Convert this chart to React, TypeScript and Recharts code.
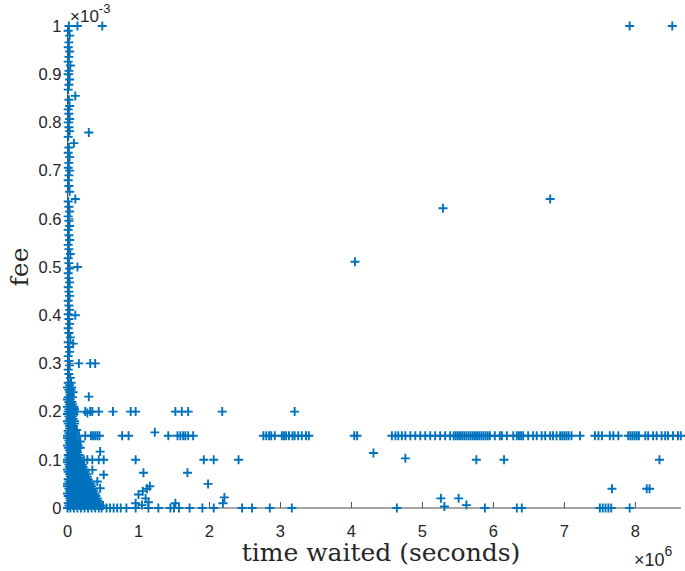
import { ScatterChart, Scatter, XAxis, YAxis } from 'recharts';

// x in units of 1e6 seconds, y in units of 1e-3 fee
const xTicks = [0, 1, 2, 3, 4, 5, 6, 7, 8];
const yTicks = [0, 0.1, 0.2, 0.3, 0.4, 0.5, 0.6, 0.7, 0.8, 0.9, 1];
const X_MAX = 8.643;

// narrow column of small waits, all fee levels
const columnPoints: [number, number][] = [
  [0.02, 1.0], [0.14, 1.0], [0.49, 1.0], [0.01, 0.99], [0.03, 0.98], [0.02, 0.966],
  [0.01, 0.956], [0.03, 0.947], [0.02, 0.936], [0.01, 0.926], [0.04, 0.918], [0.02, 0.907],
  [0.01, 0.9], [0.03, 0.889], [0.02, 0.878], [0.01, 0.868], [0.11, 0.855], [0.02, 0.847],
  [0.03, 0.834], [0.01, 0.827], [0.02, 0.818], [0.03, 0.807], [0.01, 0.8], [0.02, 0.79],
  [0.3, 0.779], [0.03, 0.782], [0.01, 0.77], [0.09, 0.757], [0.02, 0.748], [0.01, 0.737],
  [0.03, 0.728], [0.02, 0.716], [0.01, 0.706], [0.03, 0.7], [0.02, 0.69], [0.01, 0.68],
  [0.02, 0.668], [0.03, 0.656], [0.11, 0.641], [0.01, 0.636], [0.02, 0.625], [0.03, 0.615],
  [0.01, 0.605], [0.02, 0.596], [0.03, 0.585], [0.01, 0.577], [0.02, 0.566], [0.03, 0.556],
  [0.01, 0.546], [0.02, 0.537], [0.04, 0.527], [0.01, 0.518], [0.02, 0.508], [0.14, 0.5],
  [0.03, 0.497], [0.01, 0.487], [0.02, 0.477], [0.03, 0.468], [0.01, 0.458], [0.02, 0.449],
  [0.03, 0.44], [0.01, 0.43], [0.02, 0.42], [0.11, 0.4], [0.03, 0.411], [0.01, 0.402],
  [0.02, 0.392], [0.03, 0.382], [0.01, 0.373], [0.02, 0.363], [0.04, 0.354], [0.08, 0.341],
  [0.01, 0.344], [0.02, 0.334], [0.03, 0.324], [0.01, 0.315], [0.02, 0.305], [0.16, 0.3],
  [0.03, 0.296], [0.01, 0.287], [0.02, 0.278], [0.04, 0.27],
];

// dense triangle near the origin
const clusterPoints: [number, number][] = [
  [0.01, 0.26], [0.05, 0.26], [0.0, 0.25], [0.06, 0.25], [0.03, 0.24], [0.08, 0.24],
  [0.01, 0.23], [0.07, 0.23], [0.02, 0.22], [0.06, 0.22], [0.0, 0.21], [0.05, 0.21],
  [0.09, 0.21], [0.01, 0.2], [0.04, 0.2], [0.08, 0.2], [0.02, 0.19], [0.07, 0.19],
  [0.0, 0.18], [0.05, 0.18], [0.1, 0.18], [0.03, 0.17], [0.08, 0.17], [0.01, 0.16],
  [0.06, 0.16], [0.11, 0.16], [0.0, 0.15], [0.04, 0.15], [0.09, 0.15], [0.02, 0.14],
  [0.07, 0.14], [0.12, 0.14], [0.0, 0.13], [0.05, 0.13], [0.1, 0.13], [0.15, 0.13],
  [0.03, 0.12], [0.08, 0.12], [0.13, 0.12], [0.01, 0.11], [0.06, 0.11], [0.11, 0.11],
  [0.16, 0.11], [0.0, 0.1], [0.04, 0.1], [0.09, 0.1], [0.14, 0.1], [0.18, 0.1],
  [0.02, 0.09], [0.07, 0.09], [0.12, 0.09], [0.17, 0.09], [0.21, 0.09], [0.0, 0.08],
  [0.05, 0.08], [0.1, 0.08], [0.15, 0.08], [0.2, 0.08], [0.24, 0.08], [0.03, 0.07],
  [0.08, 0.07], [0.13, 0.07], [0.18, 0.07], [0.23, 0.07], [0.27, 0.07], [0.01, 0.06],
  [0.06, 0.06], [0.11, 0.06], [0.16, 0.06], [0.21, 0.06], [0.26, 0.06], [0.29, 0.06],
  [0.0, 0.05], [0.04, 0.05], [0.09, 0.05], [0.14, 0.05], [0.19, 0.05], [0.24, 0.05],
  [0.28, 0.05], [0.33, 0.05], [0.02, 0.04], [0.07, 0.04], [0.12, 0.04], [0.17, 0.04],
  [0.22, 0.04], [0.27, 0.04], [0.31, 0.04], [0.36, 0.04], [0.0, 0.03], [0.05, 0.03],
  [0.1, 0.03], [0.15, 0.03], [0.2, 0.03], [0.25, 0.03], [0.3, 0.03], [0.34, 0.03],
  [0.39, 0.03], [0.03, 0.02], [0.08, 0.02], [0.13, 0.02], [0.18, 0.02], [0.23, 0.02],
  [0.28, 0.02], [0.33, 0.02], [0.37, 0.02], [0.42, 0.02], [0.01, 0.01], [0.06, 0.01],
  [0.11, 0.01], [0.16, 0.01], [0.21, 0.01], [0.26, 0.01], [0.31, 0.01], [0.36, 0.01],
  [0.41, 0.01], [0.45, 0.01], [0.0, 0.0], [0.04, 0.0], [0.09, 0.0], [0.14, 0.0],
  [0.19, 0.0], [0.24, 0.0], [0.29, 0.0], [0.34, 0.0], [0.39, 0.0], [0.44, 0.0], [0.48, 0.0],
];

// in-between rows of the same triangle
const clusterFill: [number, number][] = [
  [0.03, 0.255], [0.02, 0.245], [0.05, 0.245], [0.04, 0.235], [0.0, 0.225], [0.04, 0.225],
  [0.03, 0.215], [0.07, 0.215], [0.02, 0.205], [0.06, 0.205], [0.1, 0.205], [0.0, 0.195],
  [0.04, 0.195], [0.09, 0.195], [0.03, 0.185], [0.08, 0.185], [0.01, 0.175], [0.06, 0.175],
  [0.1, 0.175], [0.03, 0.165], [0.08, 0.165], [0.02, 0.155], [0.07, 0.155], [0.11, 0.155],
  [0.0, 0.145], [0.05, 0.145], [0.1, 0.145], [0.03, 0.135], [0.08, 0.135], [0.13, 0.135],
  [0.01, 0.125], [0.06, 0.125], [0.11, 0.125], [0.15, 0.125], [0.04, 0.115], [0.09, 0.115],
  [0.14, 0.115], [0.02, 0.105], [0.07, 0.105], [0.12, 0.105], [0.16, 0.105], [0.0, 0.095],
  [0.05, 0.095], [0.1, 0.095], [0.15, 0.095], [0.19, 0.095], [0.03, 0.085], [0.08, 0.085],
  [0.13, 0.085], [0.18, 0.085], [0.22, 0.085], [0.01, 0.075], [0.06, 0.075], [0.11, 0.075],
  [0.16, 0.075], [0.21, 0.075], [0.25, 0.075], [0.04, 0.065], [0.09, 0.065], [0.14, 0.065],
  [0.19, 0.065], [0.24, 0.065], [0.28, 0.065], [0.02, 0.055], [0.07, 0.055], [0.12, 0.055],
  [0.17, 0.055], [0.22, 0.055], [0.27, 0.055], [0.31, 0.055], [0.0, 0.045], [0.05, 0.045],
  [0.1, 0.045], [0.15, 0.045], [0.2, 0.045], [0.25, 0.045], [0.3, 0.045], [0.34, 0.045],
  [0.03, 0.035], [0.08, 0.035], [0.13, 0.035], [0.18, 0.035], [0.23, 0.035], [0.28, 0.035],
  [0.33, 0.035], [0.37, 0.035], [0.01, 0.025], [0.06, 0.025], [0.11, 0.025], [0.16, 0.025],
  [0.21, 0.025], [0.26, 0.025], [0.31, 0.025], [0.35, 0.025], [0.4, 0.025], [0.04, 0.015],
  [0.09, 0.015], [0.14, 0.015], [0.19, 0.015], [0.24, 0.015], [0.29, 0.015], [0.34, 0.015],
  [0.38, 0.015], [0.43, 0.015], [0.02, 0.005], [0.07, 0.005], [0.12, 0.005], [0.17, 0.005],
  [0.22, 0.005], [0.27, 0.005], [0.32, 0.005], [0.37, 0.005], [0.42, 0.005], [0.46, 0.005],
  [0.5, 0.005],
];

// fee levels that repeat across long waits
const band015X = [
  0.16, 0.25, 0.33, 0.36, 0.39, 0.42, 0.45, 0.77, 0.86, 1.42, 1.55, 1.59, 1.63, 1.66, 1.7, 1.77,
  2.76, 2.8, 2.84, 2.87, 2.92, 3.02, 3.05, 3.08, 3.12, 3.17, 3.2, 3.25, 3.3, 3.36, 3.4,
  4.04, 4.08, 4.57, 4.62, 4.66, 4.71, 4.76, 4.83, 4.9, 4.97, 5.04, 5.11, 5.18, 5.25, 5.32,
  5.39, 5.44, 5.47, 5.5, 5.53, 5.56, 5.59, 5.62, 5.65, 5.68, 5.71, 5.74, 5.77, 5.8, 5.83,
  5.86, 5.89, 5.92, 5.95, 6.02, 6.09, 6.12, 6.19, 6.28, 6.33, 6.36, 6.39, 6.42, 6.49, 6.56,
  6.61, 6.68, 6.73, 6.8, 6.84, 6.89, 6.94, 6.97, 7.0, 7.03, 7.06, 7.1, 7.22, 7.43, 7.48,
  7.53, 7.64, 7.69, 7.76, 7.9, 7.93, 7.96, 7.99, 8.02, 8.05, 8.14, 8.18, 8.25, 8.3, 8.37,
  8.42, 8.46, 8.53, 8.6, 8.64,
];
const band02X = [0.13, 0.25, 0.32, 0.35, 0.44, 0.64, 0.89, 0.96, 1.52, 1.61, 1.7, 2.18, 3.2];
const band01X = [0.23, 0.28, 0.35, 0.44, 0.51, 0.96, 1.92, 2.06, 2.41, 5.76, 6.15, 8.34];
const zeroFeeX = [
  0.55, 0.6, 0.65, 0.7, 0.75, 0.83, 0.96, 1.14, 1.28, 1.45, 1.5, 1.57, 1.72, 1.9, 2.06,
  2.46, 2.6, 2.85, 3.16, 4.64, 5.88, 6.33, 6.4, 7.5, 7.54, 7.58, 7.62, 7.66, 7.92,
];

// scattered single transactions
const otherPoints: [number, number][] = [
  [0.32, 0.3], [0.39, 0.3], [0.3, 0.231], [0.28, 0.197], [0.13, 0.162], [0.18, 0.138],
  [0.18, 0.125], [0.46, 0.117], [0.35, 0.079], [0.51, 0.069], [0.42, 0.055], [0.46, 0.041],
  [1.23, 0.157], [1.07, 0.073], [1.69, 0.073], [1.98, 0.05], [0.96, 0.01], [1.0, 0.028],
  [1.05, 0.006], [1.06, 0.035], [1.1, 0.02], [1.12, 0.04], [1.14, 0.012], [1.16, 0.045],
  [1.52, 0.01], [2.19, 0.01], [2.21, 0.022], [4.31, 0.114], [4.76, 0.103], [5.26, 0.02],
  [5.31, 0.003], [5.51, 0.02], [5.62, 0.006], [7.67, 0.04], [8.16, 0.04], [8.2, 0.04],
  [4.05, 0.511], [5.29, 0.622], [6.8, 0.641], [7.92, 1.0], [8.52, 1.0],
];

const data = [
  ...columnPoints.map(([x, y]) => ({ x, y })),
  ...clusterPoints.map(([x, y]) => ({ x, y })),
  ...clusterFill.map(([x, y]) => ({ x, y })),
  ...band015X.map((x) => ({ x, y: 0.15 })),
  ...band02X.map((x) => ({ x, y: 0.2 })),
  ...band01X.map((x) => ({ x, y: 0.1 })),
  ...zeroFeeX.map((x) => ({ x, y: 0 })),
  ...otherPoints.map(([x, y]) => ({ x, y })),
];

const AXIS = '#4d4d4d';
const TEXT = '#262626';
const BLUE = '#0072BD';

const Plus = (props: any) => {
  const { cx, cy } = props;
  if (cx == null || cy == null) return <g />;
  return (
    <path
      d={`M${cx - 4.5},${cy}h9M${cx},${cy - 4.5}v9`}
      stroke={BLUE}
      strokeWidth={1.9}
      fill="none"
    />
  );
};

const tickStyle = { fill: TEXT, fontSize: 16.5, fontFamily: 'Liberation Sans, Arial, sans-serif' };

export default function App() {
  return (
    <div style={{ position: 'absolute', left: 0, top: 0, width: 685, height: 571, background: '#fff' }}>
      <ScatterChart
        width={685}
        height={571}
        margin={{ top: 26, right: 4, bottom: 33, left: 7.5 }}
      >
        <XAxis
          dataKey="x"
          type="number"
          domain={[0, X_MAX]}
          ticks={xTicks}
          interval={0}
          stroke={AXIS}
          tickSize={-6}
          tickMargin={23}
          height={30}
          tick={tickStyle}
        />
        <XAxis
          xAxisId="top"
          orientation="top"
          type="number"
          domain={[0, X_MAX]}
          ticks={xTicks}
          interval={0}
          stroke={AXIS}
          tickSize={-6}
          height={0}
          tick={false}
        />
        <YAxis
          dataKey="y"
          type="number"
          domain={[0, 1]}
          ticks={yTicks}
          interval={0}
          stroke={AXIS}
          tickSize={-6}
          tickMargin={12}
          width={60}
          tick={tickStyle}
        />
        <YAxis
          yAxisId="right"
          orientation="right"
          type="number"
          domain={[0, 1]}
          ticks={yTicks}
          interval={0}
          stroke={AXIS}
          tickSize={-6}
          width={0}
          tick={false}
        />
        <Scatter data={data} shape={Plus} isAnimationActive={false} />
      </ScatterChart>
      <svg
        width={685}
        height={571}
        style={{ position: 'absolute', left: 0, top: 0, pointerEvents: 'none' }}
      >
        <text
          transform="translate(28,267) rotate(-90)"
          textAnchor="middle"
          fontFamily="DejaVu Serif, serif"
          fontSize={25}
          fill={TEXT}
        >
          fee
        </text>
        <text x={381} y={561} textAnchor="middle" fontFamily="DejaVu Serif, serif" fontSize={25} fill={TEXT}>
          time waited (seconds)
        </text>
        <text x={70} y={22} fontFamily="Liberation Sans, Arial, sans-serif" fontSize={17} fill={TEXT}>
          ×10
          <tspan dy={-9} fontSize={13}>-3</tspan>
        </text>
        <text x={634} y={566} fontFamily="Liberation Sans, Arial, sans-serif" fontSize={18} fill={TEXT}>
          ×10
          <tspan dy={-10} fontSize={14}>6</tspan>
        </text>
      </svg>
    </div>
  );
}
